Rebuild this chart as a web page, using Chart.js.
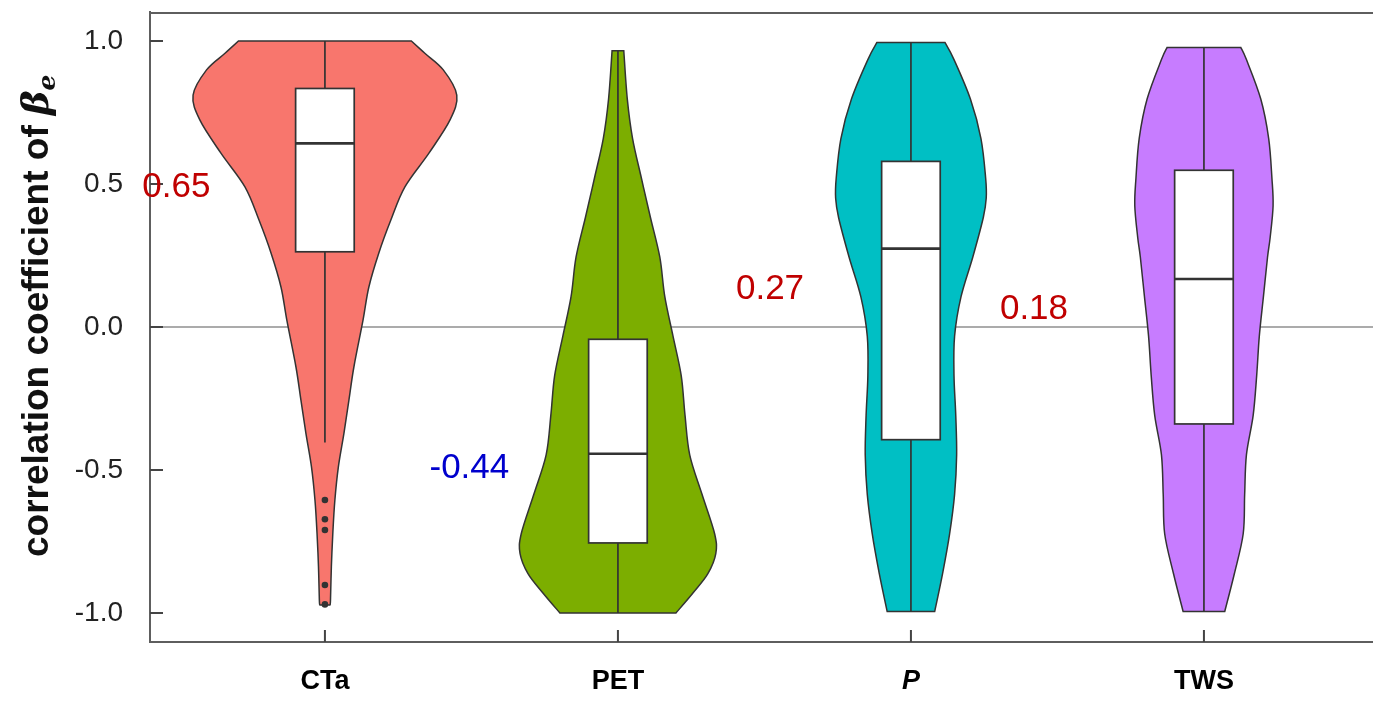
<!DOCTYPE html>
<html>
<head>
<meta charset="utf-8">
<title>Violines</title>
<script src="https://cdn.jsdelivr.net/npm/chart.js@4.4.1/dist/chart.umd.min.js"></script>
<style>
html, body { margin: 0; padding: 0; background: #fff; overflow: hidden; }
#wrap { width: 1373px; height: 721px; }
</style>
</head>
<body>
<div id="wrap"><canvas id="chart"></canvas></div>
<script>
// Categorías y posiciones en el eje x
const categories = ['CTa', 'PET', 'P', 'TWS'];
const catPos = [1, 2, 3, 4];
const yTicks = [-1, -0.5, 0, 0.5, 1];
const colors = ['#F8766D', '#7CAE00', '#00BFC4', '#C77CFF'];

// Perfil de cada violín: valor y, semiancho en unidades de categoría
const ctaY = [1.0, 0.957, 0.899, 0.811, 0.724, 0.608, 0.49, 0.374, 0.259, 0.14, 0.024, -0.139, -0.255, -0.371, -0.488, -0.605, -0.72, -0.838, -0.955, -0.972];
const ctaW = [0.295, 0.341, 0.404, 0.450, 0.427, 0.355, 0.273, 0.225, 0.184, 0.150, 0.130, 0.099, 0.082, 0.065, 0.046, 0.034, 0.027, 0.022, 0.019, 0.017];
const petY = [0.966, 0.797, 0.659, 0.521, 0.383, 0.244, 0.106, -0.032, -0.17, -0.309, -0.447, -0.585, -0.723, -0.792, -0.862, -0.93, -1.0];
const petW = [0.020, 0.032, 0.050, 0.080, 0.111, 0.143, 0.160, 0.188, 0.216, 0.229, 0.245, 0.287, 0.330, 0.334, 0.307, 0.256, 0.198];
const pY = [0.995, 0.935, 0.797, 0.659, 0.521, 0.451, 0.383, 0.244, 0.106, -0.032, -0.17, -0.309, -0.447, -0.585, -0.723, -0.862, -0.995];
const pW = [0.116, 0.147, 0.203, 0.239, 0.255, 0.257, 0.247, 0.211, 0.171, 0.149, 0.147, 0.153, 0.156, 0.149, 0.132, 0.108, 0.081];
const twsY = [0.977, 0.935, 0.797, 0.659, 0.521, 0.424, 0.313, 0.244, 0.106, -0.032, -0.17, -0.309, -0.447, -0.585, -0.723, -0.862, -0.995];
const twsW = [0.126, 0.145, 0.194, 0.221, 0.232, 0.236, 0.226, 0.217, 0.203, 0.189, 0.180, 0.168, 0.145, 0.139, 0.134, 0.104, 0.071];

// Cajas: bigote inferior, Q1, mediana, Q3, bigote superior
const boxLow = [-0.404, -1.0, -0.995, -0.995];
const boxQ1 = [0.263, -0.755, -0.394, -0.339];
const boxMed = [0.642, -0.443, 0.274, 0.168];
const boxQ3 = [0.834, -0.043, 0.579, 0.548];
const boxHigh = [1.0, 0.966, 0.995, 0.977];

// Valores atípicos de CTa
const ctaOutliers = [-0.605, -0.672, -0.71, -0.902, -0.97];

// Etiquetas con la mediana
const labelText = ['0.65', '-0.44', '0.27', '0.18'];
const labelX = [0.493, 1.493, 2.519, 3.42];
const labelY = [0.5, -0.484, 0.143, 0.07];
const labelColor = ['#C00000', '#0000CD', '#C00000', '#C00000'];

const violins = [
    { y: ctaY, w: ctaW },
    { y: petY, w: petW },
    { y: pY, w: pW },
    { y: twsY, w: twsW }
];

// Curva suave (Catmull-Rom) a través de los puntos
function splineThrough(ctx, pts) {
    ctx.lineTo(pts[0].x, pts[0].y);
    for (let i = 0; i < pts.length - 1; i++) {
        const p0 = pts[Math.max(i - 1, 0)];
        const p1 = pts[i];
        const p2 = pts[i + 1];
        const p3 = pts[Math.min(i + 2, pts.length - 1)];
        ctx.bezierCurveTo(
            p1.x + (p2.x - p0.x) / 6, p1.y + (p2.y - p0.y) / 6,
            p2.x - (p3.x - p1.x) / 6, p2.y - (p3.y - p1.y) / 6,
            p2.x, p2.y
        );
    }
}

const violinPlugin = {
    id: 'violins',
    beforeDatasetsDraw(chart) {
        const { ctx, chartArea, scales: { x, y } } = chart;
        ctx.save();

        // línea horizontal en cero
        ctx.strokeStyle = '#ABABAB';
        ctx.lineWidth = 2;
        ctx.beginPath();
        ctx.moveTo(chartArea.left, y.getPixelForValue(0));
        ctx.lineTo(chartArea.right, y.getPixelForValue(0));
        ctx.stroke();

        violins.forEach((v, i) => {
            const c = catPos[i];
            const right = v.y.map((val, k) => ({ x: x.getPixelForValue(c + v.w[k]), y: y.getPixelForValue(val) }));
            const left = v.y.map((val, k) => ({ x: x.getPixelForValue(c - v.w[k]), y: y.getPixelForValue(val) })).reverse();
            ctx.beginPath();
            ctx.moveTo(right[0].x, right[0].y);
            splineThrough(ctx, right);
            splineThrough(ctx, left);
            ctx.closePath();
            ctx.fillStyle = colors[i];
            ctx.fill();
            ctx.strokeStyle = '#333333';
            ctx.lineWidth = 1.5;
            ctx.stroke();

            // bigotes
            const cx = x.getPixelForValue(c);
            ctx.lineWidth = 1.7;
            ctx.beginPath();
            ctx.moveTo(cx, y.getPixelForValue(boxHigh[i]));
            ctx.lineTo(cx, y.getPixelForValue(boxQ3[i]));
            ctx.moveTo(cx, y.getPixelForValue(boxQ1[i]));
            ctx.lineTo(cx, y.getPixelForValue(boxLow[i]));
            ctx.stroke();

            // caja
            const bx0 = x.getPixelForValue(c - 0.1);
            const bx1 = x.getPixelForValue(c + 0.1);
            const by0 = y.getPixelForValue(boxQ3[i]);
            const by1 = y.getPixelForValue(boxQ1[i]);
            ctx.fillStyle = '#FFFFFF';
            ctx.fillRect(bx0, by0, bx1 - bx0, by1 - by0);
            ctx.lineWidth = 1.7;
            ctx.strokeRect(bx0, by0, bx1 - bx0, by1 - by0);

            // mediana
            ctx.lineWidth = 2.6;
            ctx.beginPath();
            ctx.moveTo(bx0, y.getPixelForValue(boxMed[i]));
            ctx.lineTo(bx1, y.getPixelForValue(boxMed[i]));
            ctx.stroke();
        });
        ctx.restore();
    },
    afterDraw(chart) {
        const { ctx, chartArea, scales: { x, y } } = chart;
        ctx.save();

        // borde superior
        ctx.strokeStyle = '#5E5E5E';
        ctx.lineWidth = 2;
        ctx.beginPath();
        ctx.moveTo(chartArea.left, chartArea.top + 1);
        ctx.lineTo(chartArea.right, chartArea.top + 1);
        ctx.stroke();

        // marcas hacia dentro
        ctx.strokeStyle = '#444444';
        ctx.beginPath();
        yTicks.forEach(t => {
            const py = y.getPixelForValue(t);
            ctx.moveTo(chartArea.left, py);
            ctx.lineTo(chartArea.left + 13, py);
        });
        catPos.forEach(t => {
            const px = x.getPixelForValue(t);
            ctx.moveTo(px, chartArea.bottom);
            ctx.lineTo(px, chartArea.bottom - 12);
        });
        ctx.stroke();

        // etiquetas de las medianas
        ctx.font = '35px "Liberation Sans", Arial, sans-serif';
        ctx.textAlign = 'center';
        ctx.textBaseline = 'alphabetic';
        labelText.forEach((t, i) => {
            ctx.fillStyle = labelColor[i];
            ctx.fillText(t, x.getPixelForValue(labelX[i]), y.getPixelForValue(labelY[i]) + 12.5);
        });

        // título del eje y
        ctx.translate(48, 557);
        ctx.rotate(-Math.PI / 2);
        ctx.fillStyle = '#111111';
        ctx.textAlign = 'left';
        ctx.font = 'bold 37px "Liberation Sans", Arial, sans-serif';
        const t1 = 'correlation coefficient of ';
        ctx.fillText(t1, 0, 0);
        let w = ctx.measureText(t1).width;
        ctx.font = 'italic bold 37px "DejaVu Serif", serif';
        ctx.fillText('β', w, 0);
        w += ctx.measureText('β').width;
        ctx.font = 'italic bold 25px "DejaVu Serif", serif';
        ctx.fillText('e', w, 7);
        ctx.restore();
    }
};

const ctx = document.getElementById('chart').getContext('2d');
new Chart(ctx, {
    type: 'scatter',
    data: {
        datasets: [{
            label: 'outliers',
            data: ctaOutliers.map(v => ({ x: catPos[0], y: v })),
            pointRadius: 3.3,
            pointBackgroundColor: '#333333',
            pointBorderWidth: 0
        }]
    },
    options: {
        responsive: true,
        maintainAspectRatio: false,
        animation: false,
        layout: { autoPadding: false, padding: { top: 12, right: 0, left: 0, bottom: 0 } },
        plugins: {
            legend: { display: false },
            tooltip: { enabled: false }
        },
        scales: {
            x: {
                type: 'linear',
                min: 0.403,
                max: 4.577,
                afterFit: scale => {
                    scale.height = 79;
                    scale.paddingLeft = 0;
                    scale.paddingRight = 0;
                },
                afterBuildTicks: scale => { scale.ticks = catPos.map(v => ({ value: v })); },
                grid: { display: false, drawTicks: false },
                border: { display: true, color: '#5E5E5E', width: 2 },
                ticks: {
                    padding: 23,
                    color: '#000000',
                    callback: v => categories[catPos.indexOf(v)] || '',
                    font: c => ({
                        family: '"Liberation Sans", Arial, sans-serif',
                        size: 27,
                        weight: 'bold',
                        style: c.index === 2 ? 'italic' : 'normal'
                    })
                }
            },
            y: {
                min: -1.1014,
                max: 1.1014,
                afterFit: scale => {
                    scale.width = 150;
                    scale.paddingTop = 0;
                    scale.paddingBottom = 0;
                },
                afterBuildTicks: scale => { scale.ticks = yTicks.map(v => ({ value: v })); },
                grid: { display: false, drawTicks: false },
                border: { display: true, color: '#5E5E5E', width: 2 },
                ticks: {
                    padding: 27,
                    color: '#222222',
                    font: { family: '"Liberation Sans", Arial, sans-serif', size: 28 },
                    callback: v => v.toFixed(1)
                }
            }
        }
    },
    plugins: [violinPlugin]
});
</script>
</body>
</html>
